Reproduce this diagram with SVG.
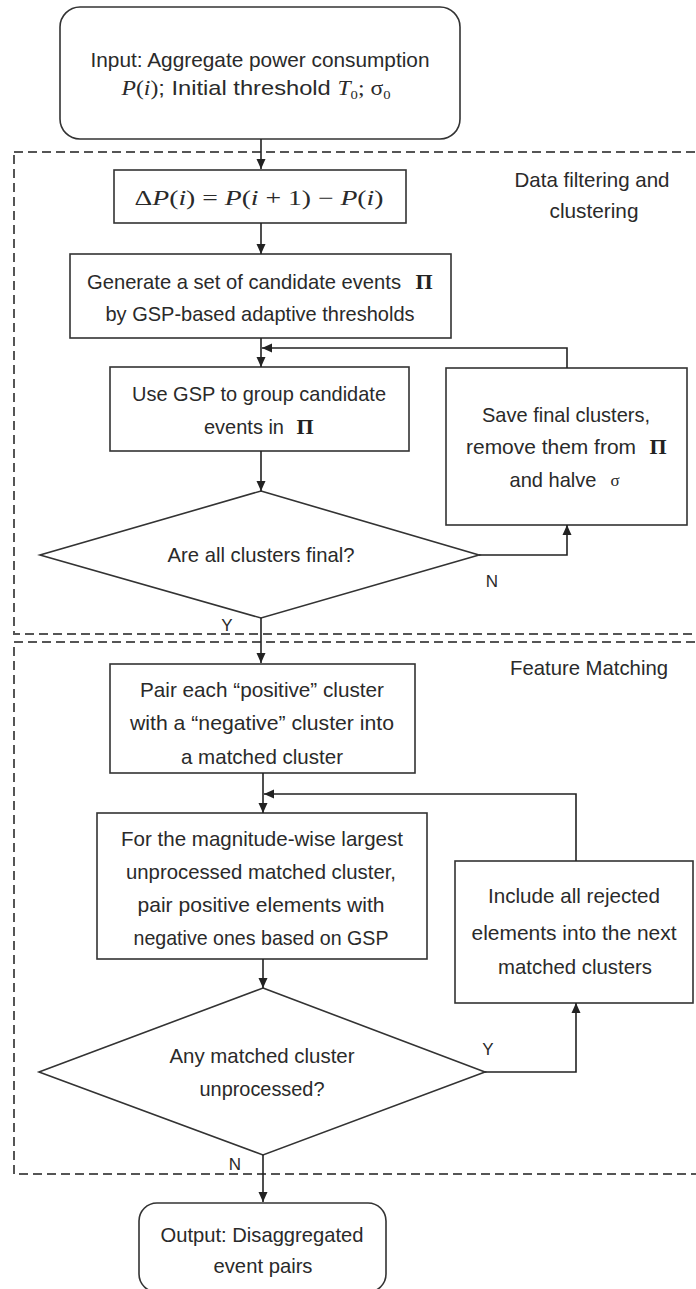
<svg xmlns="http://www.w3.org/2000/svg" width="696" height="1289" viewBox="0 0 696 1289">
<defs>
<style>
.region{fill:none;stroke:#555;stroke-width:2;stroke-dasharray:9 5}
.box{fill:#fff;stroke:#333;stroke-width:1.6}
.t{font-family:"Liberation Sans",Arial,sans-serif;font-size:21px;fill:#2a2a2a;text-anchor:middle}
.lbl{font-family:"Liberation Sans",Arial,sans-serif;font-size:17px;fill:#2a2a2a;text-anchor:middle}
.m{font-family:"Liberation Serif","Times New Roman",serif}
.i{font-style:italic}
.pi{font-family:"Liberation Serif","Times New Roman",serif;font-weight:bold;font-size:22px;fill:#222;text-anchor:middle}
.sig{font-family:"Liberation Serif","Times New Roman",serif;font-size:17px;fill:#2a2a2a;text-anchor:middle}
.conn{fill:none;stroke:#222;stroke-width:1.6;marker-end:url(#ah)}
</style>
<marker id="ah" markerUnits="userSpaceOnUse" markerWidth="11" markerHeight="11" refX="10" refY="5" orient="auto">
<path d="M0,0.5 L10,5 L0,9.5 z" fill="#222"/>
</marker>
</defs>

<g id="regions">
<rect id="region-filtering" class="region" x="14" y="152" width="700" height="482"/>
<rect id="region-matching" class="region" x="14" y="642" width="700" height="532"/>
<text class="t" x="592" y="187" textLength="155" lengthAdjust="spacingAndGlyphs">Data filtering and</text>
<text class="t" x="594" y="218" textLength="89" lengthAdjust="spacingAndGlyphs">clustering</text>
<text class="t" x="589" y="675" textLength="158" lengthAdjust="spacingAndGlyphs">Feature Matching</text>
</g>

<g id="input">
<rect class="box" x="60" y="7" width="400" height="132" rx="20" ry="20"/>
<text class="t" x="260" y="67" textLength="339" lengthAdjust="spacingAndGlyphs">Input: Aggregate power consumption</text>
<text class="t" x="256" y="95" textLength="269" lengthAdjust="spacingAndGlyphs"><tspan class="m i">P</tspan><tspan class="m">(</tspan><tspan class="m i">i</tspan><tspan class="m">)</tspan>; Initial threshold  <tspan class="m i">T</tspan><tspan class="m" font-size="13" dy="4">0</tspan><tspan class="m" dy="-4">;  σ</tspan><tspan class="m" font-size="13" dy="4">0</tspan></text>
</g>

<g id="delta">
<rect class="box" x="114" y="170" width="292" height="53"/>
<text class="t m" x="259" y="205" font-size="21" textLength="249" lengthAdjust="spacingAndGlyphs">Δ<tspan class="i">P</tspan>(<tspan class="i">i</tspan>) = <tspan class="i">P</tspan>(<tspan class="i">i</tspan> + 1)  −  <tspan class="i">P</tspan>(<tspan class="i">i</tspan>)</text>
</g>

<g id="generate">
<rect class="box" x="70" y="254" width="381" height="84"/>
<text class="t" x="244" y="289" textLength="314" lengthAdjust="spacingAndGlyphs">Generate a set of candidate events</text>
<text class="pi" x="424" y="289">Π</text>
<text class="t" x="260" y="321" textLength="309" lengthAdjust="spacingAndGlyphs">by GSP-based adaptive thresholds</text>
</g>

<g id="group">
<rect class="box" x="110" y="367" width="299" height="84"/>
<text class="t" x="259" y="401" textLength="254" lengthAdjust="spacingAndGlyphs">Use GSP to group candidate</text>
<text class="t" x="244" y="434" textLength="80" lengthAdjust="spacingAndGlyphs">events in</text>
<text class="pi" x="305" y="434">Π</text>
</g>

<g id="save">
<rect class="box" x="446" y="368" width="241" height="157"/>
<text class="t" x="566" y="422" textLength="168" lengthAdjust="spacingAndGlyphs">Save final clusters,</text>
<text class="t" x="551" y="454" textLength="170" lengthAdjust="spacingAndGlyphs">remove them from</text>
<text class="pi" x="658" y="454">Π</text>
<text class="t" x="553" y="487" textLength="87" lengthAdjust="spacingAndGlyphs">and halve</text>
<text class="sig" x="615" y="486">σ</text>
</g>

<g id="final-decision">
<polygon class="box" points="261,491 479,555 261,618 40,555"/>
<text class="t" x="261" y="562" textLength="187" lengthAdjust="spacingAndGlyphs">Are all clusters final?</text>
</g>

<g id="pair">
<rect class="box" x="110" y="664" width="305" height="109"/>
<text class="t" x="262" y="697" textLength="244" lengthAdjust="spacingAndGlyphs">Pair each “positive” cluster</text>
<text class="t" x="262" y="730" textLength="264" lengthAdjust="spacingAndGlyphs">with a “negative” cluster into</text>
<text class="t" x="262" y="764" textLength="162" lengthAdjust="spacingAndGlyphs">a matched cluster</text>
</g>

<g id="largest">
<rect class="box" x="97" y="813" width="330" height="146"/>
<text class="t" x="262" y="846" textLength="282" lengthAdjust="spacingAndGlyphs">For the magnitude-wise largest</text>
<text class="t" x="261" y="879" textLength="270" lengthAdjust="spacingAndGlyphs">unprocessed matched cluster,</text>
<text class="t" x="261" y="912" textLength="247" lengthAdjust="spacingAndGlyphs">pair positive elements with</text>
<text class="t" x="261" y="945" textLength="255" lengthAdjust="spacingAndGlyphs">negative ones based on GSP</text>
</g>

<g id="include">
<rect class="box" x="455" y="861" width="238" height="142"/>
<text class="t" x="574" y="903" textLength="172" lengthAdjust="spacingAndGlyphs">Include all rejected</text>
<text class="t" x="574" y="940" textLength="205" lengthAdjust="spacingAndGlyphs">elements into the next</text>
<text class="t" x="575" y="974" textLength="154" lengthAdjust="spacingAndGlyphs">matched clusters</text>
</g>

<g id="unprocessed-decision">
<polygon class="box" points="263,988 485,1072 263,1155 39,1072"/>
<text class="t" x="262" y="1063" textLength="185" lengthAdjust="spacingAndGlyphs">Any matched cluster</text>
<text class="t" x="262" y="1096" textLength="125" lengthAdjust="spacingAndGlyphs">unprocessed?</text>
</g>

<g id="output">
<rect class="box" x="139" y="1203" width="247" height="89" rx="18" ry="18"/>
<text class="t" x="262" y="1242" textLength="203" lengthAdjust="spacingAndGlyphs">Output: Disaggregated</text>
<text class="t" x="263" y="1273" textLength="99" lengthAdjust="spacingAndGlyphs">event pairs</text>
</g>

<g id="connectors">
<path class="conn" d="M261,139 V169"/>
<path class="conn" d="M261,223 V254"/>
<path class="conn" d="M261,338 V367"/>
<path class="conn" d="M567,368 V348 H262" stroke-width="2"/>
<path class="conn" d="M261,451 V491"/>
<path class="conn" d="M479,555 H567 V525" stroke-width="2"/>
<path class="conn" d="M261,618 V663"/>
<path class="conn" d="M263,773 V813"/>
<path class="conn" d="M576,861 V794 H264"/>
<path class="conn" d="M263,959 V988"/>
<path class="conn" d="M485,1072 H576 V1003"/>
<path class="conn" d="M263,1155 V1202"/>
<text class="lbl" x="492" y="587">N</text>
<text class="lbl" x="227" y="631">Y</text>
<text class="lbl" x="488" y="1055">Y</text>
<text class="lbl" x="235" y="1170">N</text>
</g>
</svg>
